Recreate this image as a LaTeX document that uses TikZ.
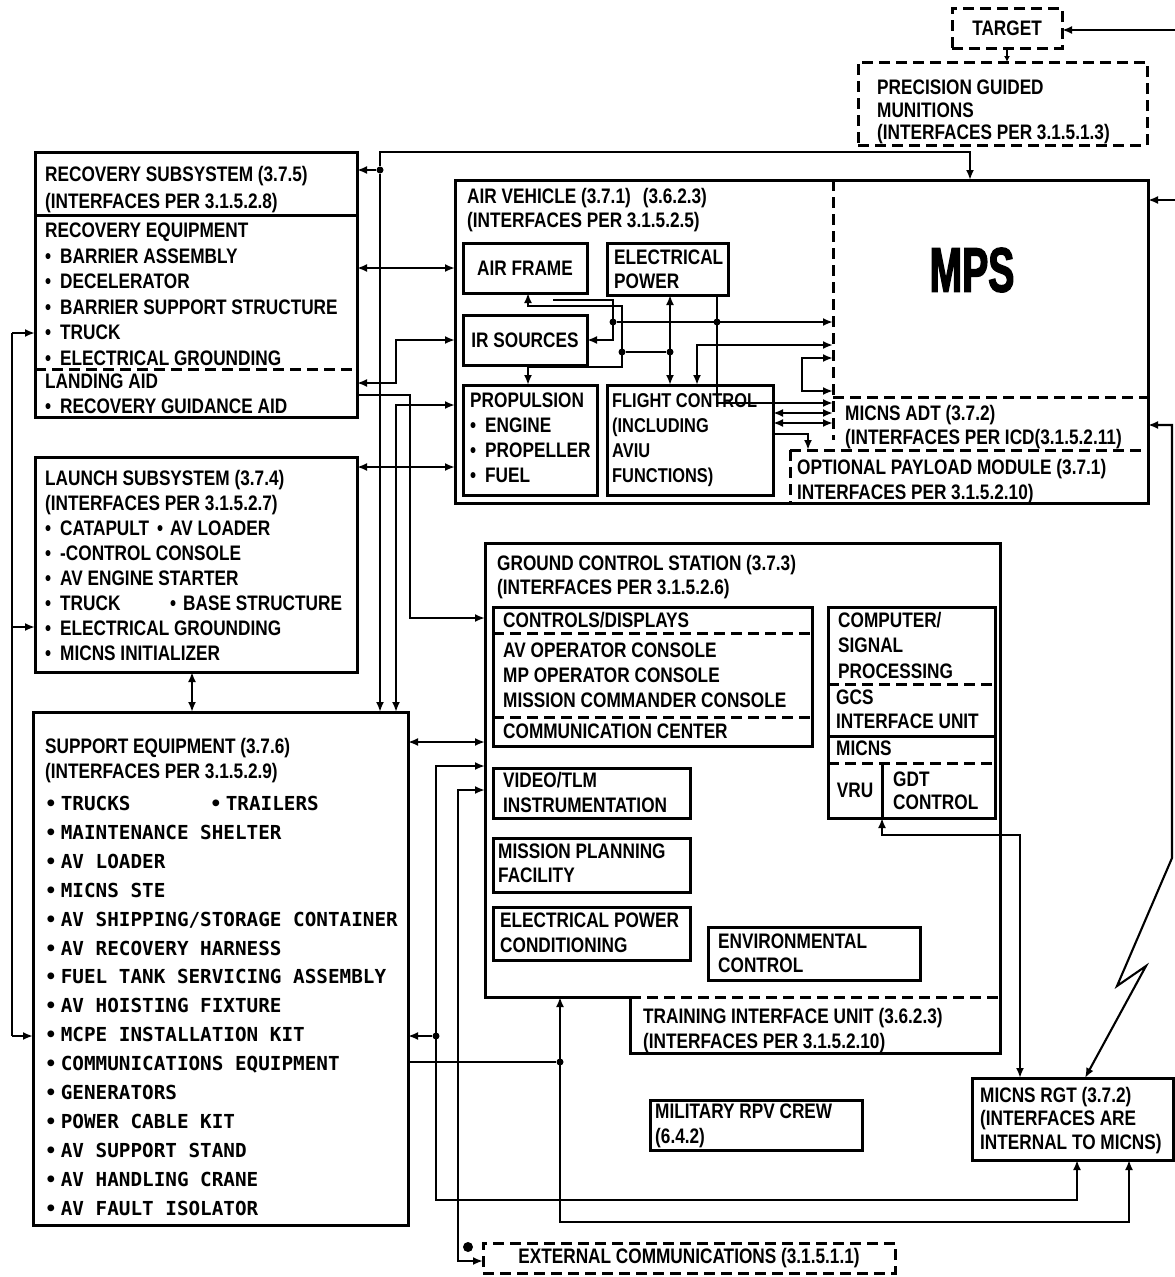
\documentclass[tikz,border=0pt]{standalone}
\usepackage{fontspec}
\usepackage{graphicx}
\usetikzlibrary{arrows.meta}
\newfontfamily\lblfont{Liberation Sans}[FakeStretch=0.82]
\newfontfamily\monofont{DejaVu Sans Mono}
\newfontface\mpsfont{Liberation Sans Bold}[FakeStretch=0.62,FakeBold=2]
\newcommand\mkbox[6][box]{%
  \pgfmathsetmacro\mkw{#5-#3}\pgfmathsetmacro\mkh{#6-#4}%
  \node[#1,minimum width=\mkw pt,minimum height=\mkh pt] (#2) at (#3,#4) {};}
\newcommand\bul{\textbullet\hspace{9pt}}
\newcommand\mb{•\hspace{4pt}}
\begin{document}
\begin{tikzpicture}[x=1pt,y=-1pt,
  box/.style={draw,line width=3pt,inner sep=0pt,outer sep=0pt,anchor=north west},
  nobox/.style={inner sep=0pt,outer sep=0pt,anchor=north west},
  dbox/.style={box,dash pattern=on 11pt off 6pt},
  dsh/.style={line width=3pt,dash pattern=on 11pt off 6pt},
  con/.style={line width=2.1pt},
  arr/.style={con,-{Latex[length=10pt,width=8pt]}},
  arr2/.style={con,{Latex[length=10pt,width=8pt]}-{Latex[length=10pt,width=8pt]}},
  arrs/.style={con,{Latex[length=10pt,width=8pt]}-},
  arrsm/.style={con,-{Latex[length=6pt,width=6pt]}},
  dot/.style={circle,fill,inner sep=0pt,minimum size=7pt},
  lbl/.style={font=\lblfont\bfseries\fontsize{21}{#1}\selectfont,align=left,inner sep=0pt,anchor=north west},
  lbl/.default=25,
  mono/.style={font=\monofont\bfseries\fontsize{19.3}{28.9}\selectfont,align=left,inner sep=0pt,anchor=north west}
]
\useasboundingbox (0,0) rectangle (1175,1277);

% ---------------- top right: target and PGM
\mkbox[dbox]{tgt}{952}{8}{1062}{48}
\node[lbl,anchor=center] (tgtT) at (tgt.center) {TARGET};
\mkbox[dbox]{pgm}{858}{62}{1147}{145}
\node[lbl=22.5] (pgmT) at (877,80) {PRECISION GUIDED\\MUNITIONS\\(INTERFACES PER 3.1.5.1.3)};
\coordinate (tgtE) at (1175,30);
\draw[arr] (tgtE) -- (tgt.east |- tgtE);
\draw[arrsm] (tgt.south) -- (tgt.south |- pgm.north);

% ---------------- recovery subsystem
\mkbox{rec}{35}{152}{357}{417}
\draw[line width=3pt] (35,215) -- (357,215);
\draw[dsh] (35,369) -- (357,369);
\node[lbl=27] (recT1) at (45,166) {RECOVERY SUBSYSTEM (3.7.5)\\(INTERFACES PER 3.1.5.2.8)};
\node[lbl=25.5] (recT2) at (45,223) {RECOVERY EQUIPMENT\\\bul BARRIER ASSEMBLY\\\bul DECELERATOR\\\bul BARRIER SUPPORT STRUCTURE\\\bul TRUCK\\\bul ELECTRICAL GROUNDING};
\node[lbl] (recT3) at (45,374) {LANDING AID\\\bul RECOVERY GUIDANCE AID};

% ---------------- launch subsystem
\mkbox{lau}{35}{457}{357}{672}
\node[lbl] (lauT) at (45,470) {LAUNCH SUBSYSTEM (3.7.4)\\(INTERFACES PER 3.1.5.2.7)\\
\makebox[112pt][l]{\bul CATAPULT}\textbullet\hspace{7pt}AV LOADER\\\bul -CONTROL CONSOLE\\\bul AV ENGINE STARTER\\
\makebox[125pt][l]{\bul TRUCK}\textbullet\hspace{7pt}BASE STRUCTURE\\\bul ELECTRICAL GROUNDING\\\bul MICNS INITIALIZER};

% ---------------- support equipment
\mkbox{sup}{33}{712}{408}{1225}
\node[lbl] (supT1) at (45,738) {SUPPORT EQUIPMENT (3.7.6)\\(INTERFACES PER 3.1.5.2.9)};
\node[mono] (supT2) at (45,796) {\makebox[165pt][l]{\mb TRUCKS}\mb TRAILERS\\\mb MAINTENANCE SHELTER\\\mb AV LOADER\\\mb MICNS STE\\\mb AV SHIPPING/STORAGE CONTAINER\\\mb AV RECOVERY HARNESS\\\mb FUEL TANK SERVICING ASSEMBLY\\\mb AV HOISTING FIXTURE\\\mb MCPE INSTALLATION KIT\\\mb COMMUNICATIONS EQUIPMENT\\\mb GENERATORS\\\mb POWER CABLE KIT\\\mb AV SUPPORT STAND\\\mb AV HANDLING CRANE\\\mb AV FAULT ISOLATOR};

% ---------------- air vehicle
\mkbox{av}{455}{180}{1148}{503}
\mkbox[nobox]{mps}{833}{180}{1148}{397}
\mkbox[nobox]{adt}{833}{397}{1148}{450}
\mkbox[nobox]{opm}{790}{450}{1148}{503}
\draw[dsh] (mps.north west) -- (833,440);
\draw[dsh] (mps.south west) -- (mps.south east);
\draw[dsh] (opm.north west) -- (opm.north east);
\draw[dsh] (opm.north west) -- (opm.south west);
\node[inner sep=0pt] (mpsT) at (972,270) {\mpsfont\fontsize{63}{63}\selectfont MPS};
\node[lbl=24] (avT) at (467,188) {AIR VEHICLE (3.7.1)\hspace{12pt}(3.6.2.3)\\(INTERFACES PER 3.1.5.2.5)};
\node[lbl=24] (adtT) at (845,405) {MICNS ADT (3.7.2)\\(INTERFACES PER ICD(3.1.5.2.11)};
\node[lbl] (opmT) at (797,459) {OPTIONAL PAYLOAD MODULE (3.7.1)\\INTERFACES PER 3.1.5.2.10)};

\mkbox{af}{463}{243}{587}{293}
\node[lbl,anchor=center] (afT) at (af.center) {AIR FRAME};
\mkbox{ep}{607}{243}{728}{295}
\node[lbl=24] (epT) at (614,250) {ELECTRICAL\\POWER};
\mkbox{ir}{463}{315}{587}{365}
\node[lbl,anchor=center] (irT) at (ir.center) {IR SOURCES};
\mkbox{prop}{463}{385}{597}{495}
\node[lbl] (propT) at (470,393) {PROPULSION\\\textbullet\hspace{9pt}ENGINE\\\textbullet\hspace{9pt}PROPELLER\\\textbullet\hspace{9pt}FUEL};
\mkbox{fc}{607}{385}{773}{495}
\node[lbl,font=\lblfont\bfseries\fontsize{20}{25}\selectfont] (fcT) at (612,393) {FLIGHT CONTROL\\(INCLUDING\\AVIU\\FUNCTIONS)};

% AV internal connectors
\node[dot] (k1) at (613,322) {};
\node[dot] (k2) at (717,322) {};
\node[dot] (k3) at (622,352) {};
\node[dot] (k4) at (670,352) {};
\draw[arrs] (ir.east |- 0,340) -- (613,340) -- (613,300) -- (553,300);
\draw[arr] (k1) -- (mps.west |- k1);
\draw[arr2] (prop.north -| 528,0) -- (528,367) -- (622,367) -- (622,306) -- (528,306) -- (af.south -| 528,0);
\draw[con] (k3) -- (k4);
\draw[arr2] (ep.south -| 670,0) -- (fc.north -| 670,0);
\draw[arr] (ep.south -| 717,0) -- (717,403) -- (adt.west |- 0,403);
\draw[arr2] (mps.west |- 0,345) -- (697,345) -- (fc.north -| 697,0);
\draw[arr2] (mps.west |- 0,358) -- (802,358) -- (802,391) -- (mps.west |- 0,391);
\draw[arr2] (fc.east |- 0,413) -- (adt.west |- 0,413);
\draw[arr2] (fc.east |- 0,423) -- (adt.west |- 0,423);
\draw[arr] (fc.east |- 0,434) -- (808,434) -- (opm.north -| 808,0);

% ---------------- ground control station
\mkbox[nobox]{gcs}{485}{543}{1000}{997}
\mkbox[nobox]{trn}{630}{997}{1000}{1053}
\draw[line width=3pt] (trn.north west) -- (gcs.south west) -- (gcs.north west) -- (gcs.north east) -- (trn.south east) -- (trn.south west) -- cycle;
\draw[dsh] (trn.north west) -- (trn.north east);
\node[lbl=24] (gcsT) at (497,555) {GROUND CONTROL STATION (3.7.3)\\(INTERFACES PER 3.1.5.2.6)};
\node[lbl] (trnT) at (643,1008) {TRAINING INTERFACE UNIT (3.6.2.3)\\(INTERFACES PER 3.1.5.2.10)};

\mkbox{cd}{493}{607}{812}{746}
\draw[dsh] (493,633) -- (812,633);
\draw[dsh] (493,717) -- (812,717);
\node[lbl] (cdT1) at (503,612) {CONTROLS/DISPLAYS};
\node[lbl] (cdT2) at (503,643) {AV OPERATOR CONSOLE\\MP OPERATOR CONSOLE\\MISSION COMMANDER CONSOLE};
\node[lbl] (cdT3) at (503,724) {COMMUNICATION CENTER};

\mkbox{comp}{828}{607}{995}{818}
\draw[dsh] (828,684) -- (995,684);
\draw[line width=3pt] (828,736) -- (995,736);
\draw[dsh] (828,763) -- (995,763);
\draw[line width=3pt] (882,763) -- (882,818);
\mkbox[nobox]{vru}{828}{763}{882}{818}
\node[lbl=25.5] (compT1) at (838,612) {COMPUTER/\\SIGNAL\\PROCESSING};
\node[lbl=24] (compT2) at (836,690) {GCS\\INTERFACE UNIT};
\node[lbl] (compT3) at (836,741) {MICNS};
\node[lbl,anchor=center] (vruT) at (vru.center) {VRU};
\node[lbl=23] (gdtT) at (893,772) {GDT\\CONTROL};

\mkbox{vid}{493}{768}{690}{818}
\node[lbl] (vidT) at (503,772) {VIDEO/TLM\\INSTRUMENTATION};
\mkbox{mpf}{493}{838}{690}{892}
\node[lbl=24] (mpfT) at (498,844) {MISSION PLANNING\\FACILITY};
\mkbox{epc}{493}{907}{690}{960}
\node[lbl] (epcT) at (500,913) {ELECTRICAL POWER\\CONDITIONING};
\mkbox{env}{708}{927}{920}{980}
\node[lbl=24] (envT) at (718,934) {ENVIRONMENTAL\\CONTROL};

% ---------------- bottom boxes
\mkbox{rpv}{650}{1100}{862}{1150}
\node[lbl] (rpvT) at (655,1104) {MILITARY RPV CREW\\(6.4.2)};
\mkbox{rgt}{972}{1078}{1173}{1160}
\node[lbl=23.5] (rgtT) at (980,1087) {MICNS RGT (3.7.2)\\(INTERFACES ARE\\INTERNAL TO MICNS)};
\mkbox[dbox]{ext}{483}{1243}{895}{1273}
\node[lbl,anchor=center] (extT) at (ext.center) {EXTERNAL COMMUNICATIONS (3.1.5.1.1)};

% ---------------- connectors
\node[dot] (j1) at (380,170) {};
\draw[arr] (j1) -- (rec.east |- j1);
\draw[arr] (j1) -- (380,152) -- (970,152) -- (av.north -| 970,0);
\draw[arr] (j1) -- (j1 |- sup.north);
\coordinate (mpsE) at (1175,200);
\draw[arr] (mpsE) -- (av.east |- mpsE);

\draw[arr2] (rec.east |- 0,268) -- (av.west |- 0,268);
\draw[arr2] (rec.east |- 0,383) -- (396,383) -- (396,340) -- (av.west |- 0,340);
\draw[arr] (rec.east |- 0,395) -- (410,395) -- (410,618) -- (gcs.west |- 0,618);
\draw[arr2] (sup.north -| 396,0) -- (396,405) -- (av.west |- 0,405);
\draw[arr2] (lau.east |- 0,467) -- (av.west |- 0,467);
\draw[arr2] (lau.south -| 192,0) -- (sup.north -| 192,0);

\coordinate (lb1) at (12,333);
\coordinate (lb2) at (12,627);
\coordinate (lb3) at (12,1036);
\draw[con] (lb1) -- (lb3);
\draw[arr] (lb1) -- (rec.west |- lb1);
\draw[arr] (lb2) -- (lau.west |- lb2);
\draw[arr] (lb3) -- (sup.west |- lb3);

\draw[arr2] (sup.east |- 0,742) -- (gcs.west |- 0,742);
\node[dot] (j2) at (436,1036) {};
\draw[arr] (j2) -- (sup.east |- j2);
\draw[arr2] (gcs.west |- 0,766) -- (436,766) -- (436,1200) -- (1077,1200) -- (rgt.south -| 1077,0);
\draw[arr2] (gcs.west |- 0,790) -- (458,790) -- (458,1261) -- (ext.west |- 0,1261);
\node[dot,minimum size=10pt] (d5) at (468,1247) {};
\node[dot] (j3) at (560,1062) {};
\draw[con] (sup.east |- j3) -- (j3);
\draw[arr2] (gcs.south -| 560,0) -- (560,1222) -- (1129,1222) -- (rgt.south -| 1129,0);
\draw[arr2] (comp.south -| 882,0) -- (882,835) -- (1020,835) -- (rgt.north -| 1020,0);
\draw[arr2] (adt.east |- 0,425) -- (1172,425) -- (1172,858) -- (1117,986) -- (1146,966) -- (rgt.north -| 1085,0);
\end{tikzpicture}
\end{document}
